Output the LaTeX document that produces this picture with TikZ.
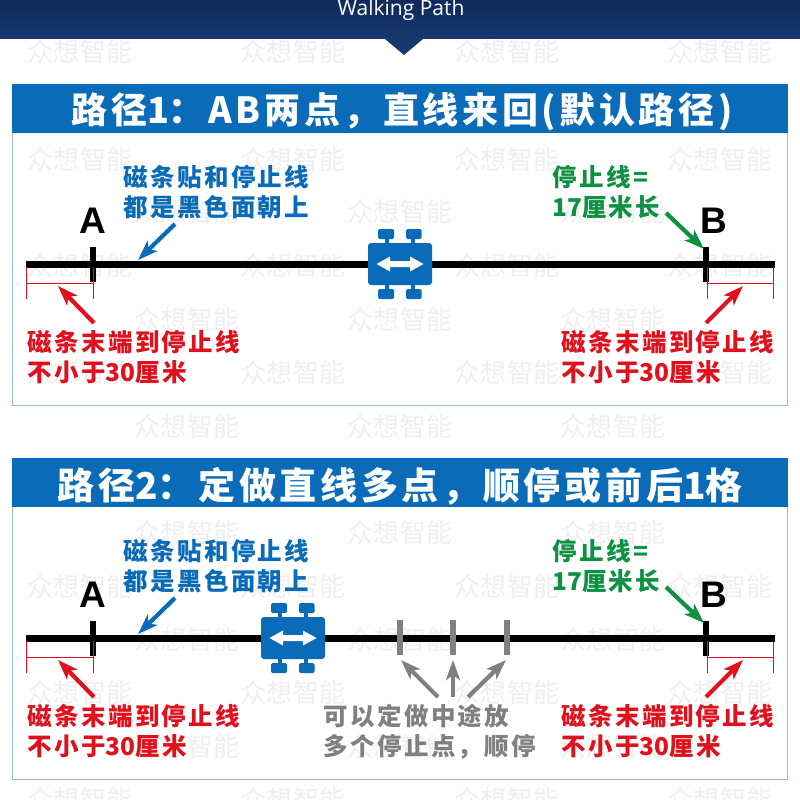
\documentclass[tikz,border=0pt]{standalone}
\usepackage{fontspec}
\usetikzlibrary{arrows.meta}
\newfontfamily\cjk{Noto Sans CJK SC}
\newfontfamily\latinb{Liberation Sans}
\newcommand{\nosp}[1]{{\addfontfeature{LetterSpace=0}#1}}
\newcommand{\fwcolon}{^^^^ff1a}
\newcommand{\fwcomma}{^^^^ff0c}
\definecolor{navytop}{HTML}{0F2A5C}
\definecolor{navybot}{HTML}{17376F}
\definecolor{barblue}{HTML}{0A6BB8}
\definecolor{edgeblue}{HTML}{9DBBCB}
\definecolor{mark}{HTML}{EFEFEF}
\definecolor{redtxt}{HTML}{E0101C}
\definecolor{greentxt}{HTML}{0E9140}
\definecolor{graytxt}{HTML}{808080}
\tikzset{
 x=1pt,y=-1pt,
 wm/.style={text=mark,font=\cjk\fontsize{26}{26}\selectfont\addfontfeature{LetterSpace=2},inner sep=0pt,anchor=center},
 titletxt/.style={text=white,font=\cjk\bfseries\fontsize{36}{38}\selectfont\addfontfeature{LetterSpace=10},inner sep=0pt,anchor=center},
 titletxtb/.style={text=white,font=\cjk\bfseries\fontsize{37}{38}\selectfont\addfontfeature{LetterSpace=10},inner sep=0pt,anchor=center},
 lab/.style={font=\cjk\bfseries\fontsize{24.5}{30}\selectfont\addfontfeature{LetterSpace=10},inner sep=0pt,anchor=north west,align=left},
 letter/.style={font=\latinb\bfseries\fontsize{37}{37}\selectfont,inner sep=0pt,anchor=center,text=black},
 track/.style={line width=7pt,black},
 stopbar/.style={line width=6pt,black},
 midbar/.style={line width=6pt,graytxt},
 dim/.style={line width=0.9pt,redtxt},
 fat/.style={line width=4.2pt,-{Stealth[length=20pt,width=14pt,inset=5pt]}},
}
\newcommand{\carrier}[3]{% name, x, y
 \begin{scope}[shift={(#2,#3)}]
  \fill[barblue] (-15.2,-26) rectangle (-11.4,26);
  \fill[barblue] (11.4,-26) rectangle (15.2,26);
  \fill[barblue,rounded corners=1.5pt] (-22,-35) rectangle (-6,-25);
  \fill[barblue,rounded corners=1.5pt] (6,-35) rectangle (21.5,-25);
  \fill[barblue,rounded corners=1.5pt] (-22,25) rectangle (-6,35);
  \fill[barblue,rounded corners=1.5pt] (6,25) rectangle (21.5,35);
  \node[fill=barblue,rounded corners=3pt,minimum width=64pt,minimum height=42pt,inner sep=0pt] (#1) at (0,0) {};
  \fill[white] (-23.5,0) -- (-10,-7.5) -- (-10,-3) -- (10,-3) -- (10,-7.5) -- (23.5,0) -- (10,7.5) -- (10,3) -- (-10,3) -- (-10,7.5) -- cycle;
 \end{scope}}
\newcommand{\pathrow}[2]{% name prefix, vertical offset
 \begin{scope}[shift={(0,#2)}]
  \coordinate (#1L) at (26,264); \coordinate (#1R) at (775,264);
  \coordinate (#1At) at (92.5,247); \coordinate (#1Ab) at (92.5,282);
  \coordinate (#1Bt) at (706,247); \coordinate (#1Bb) at (706,282);
  \draw[track] (#1L) -- (#1R);
  \draw[stopbar] (#1At) -- (#1Ab);
  \draw[stopbar] (#1Bt) -- (#1Bb);
  \draw[dim] (26,267) -- (26,299) (26,283) -- (93,283) (93,267) -- (93,299);
  \draw[dim] (707,267) -- (707,299) (707,283) -- (773,283) (773,267) -- (773,299);
  \node[letter] (#1A) at (93,221) {A};
  \node[letter] (#1B) at (714,221) {B};
  \node[lab,text=barblue] (#1blue) at (123,165) {磁条贴和停止线\\都是黑色面朝上};
  \node[lab,text=greentxt] (#1green) at (552,165) {停止线=\\\nosp{17}厘米长};
  \node[lab,text=redtxt] (#1redl) at (27,330) {磁条末端到停止线\\不小于\nosp{30}厘米};
  \node[lab,text=redtxt] (#1redr) at (561,330) {磁条末端到停止线\\不小于\nosp{30}厘米};
  \coordinate (#1a1) at (175,224); \coordinate (#1a2) at (138,260);
  \draw[fat,barblue] (#1a1) -- (#1a2);
  \coordinate (#1b1) at (666,213); \coordinate (#1b2) at (704,249);
  \draw[fat,greentxt] (#1b1) -- (#1b2);
  \coordinate (#1c1) at (94,323); \coordinate (#1c2) at (58,286);
  \draw[fat,redtxt] (#1c1) -- (#1c2);
  \coordinate (#1d1) at (706,323); \coordinate (#1d2) at (743,286);
  \draw[fat,redtxt] (#1d1) -- (#1d2);
 \end{scope}}
\begin{document}
\begin{tikzpicture}
\useasboundingbox (0,0) rectangle (800,800);
\fill[white] (0,0) rectangle (800,800);
\draw[edgeblue,line width=1pt] (12.5,84.5) rectangle (787.5,405.5);
\draw[edgeblue,line width=1pt] (12.5,458.5) rectangle (787.5,779);
\begin{scope}
\clip (0,0) rectangle (800,800);
\foreach \yy in {52,160,266,373,480,587,693,800}
  \foreach \xx in {80,293,507,720}
    \node[wm] at (\xx,\yy) {众想智能};
\foreach \yy in {105,212,320,427,533,640,747}
  \foreach \xx in {187,400,613}
    \node[wm] at (\xx,\yy) {众想智能};
\end{scope}
% header
\shade[top color=navytop,bottom color=navybot] (0,0) rectangle (800,39);
\fill[navybot] (385,39) -- (423,39) -- (404,55) -- cycle;
\node[text=white,inner sep=0pt,font=\fontspec{Open Sans}\fontsize{21}{21}\selectfont] (head) at (401,10) {Walking Path};
% title bars
\fill[barblue] (12,84) rectangle (788,133);
\node[titletxt] (t1) at (402,112) {路径\nosp{1}\fwcolon AB两点\fwcomma 直线来回(默认路径)};
\fill[barblue] (12,458) rectangle (788,507);
\node[titletxtb] (t2) at (400,486) {路径\nosp{2}\fwcolon 定做直线多点\fwcomma 顺停或前后\nosp{1}格};
% first path
\pathrow{p}{0}
\carrier{c1}{400}{264}
% second path
\pathrow{q}{374}
\carrier{c2}{293}{638}
\coordinate (m1t) at (400,620); \coordinate (m1b) at (400,655);
\coordinate (m2t) at (453,620); \coordinate (m2b) at (453,655);
\coordinate (m3t) at (507,620); \coordinate (m3b) at (507,655);
\draw[midbar] (m1t) -- (m1b);
\draw[midbar] (m2t) -- (m2b);
\draw[midbar] (m3t) -- (m3b);
\coordinate (g1) at (438,697); \coordinate (g1e) at (401,660);
\coordinate (g2) at (453,697); \coordinate (g2e) at (453,660);
\coordinate (g3) at (468,697); \coordinate (g3e) at (506,660);
\draw[fat,graytxt] (g1) -- (g1e);
\draw[fat,graytxt] (g2) -- (g2e);
\draw[fat,graytxt] (g3) -- (g3e);
\node[lab,text=graytxt] (gt) at (323,704) {可以定做中途放\\多个停止点\fwcomma 顺停};
\end{tikzpicture}
\end{document}
